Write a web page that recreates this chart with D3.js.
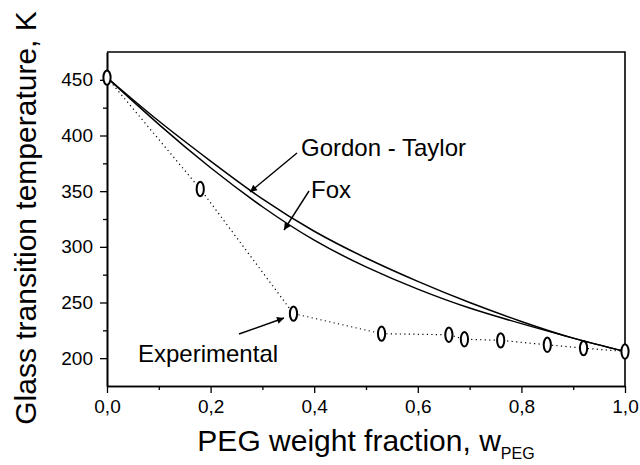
<!DOCTYPE html>
<html>
<head>
<meta charset="utf-8">
<script src="https://cdn.jsdelivr.net/npm/d3@7"></script>
<style>
  body { margin: 0; background: #fff; }
  svg { font-family: "Liberation Sans", Arial, sans-serif; }
</style>
</head>
<body>
<div id="chart"></div>
<script>
// PEG weight fraction vs glass transition temperature
const expW = [0, 0.18, 0.36, 0.53, 0.66, 0.69, 0.76, 0.85, 0.92, 1.0];
const expT = [452, 352, 240, 222, 221, 217, 216, 212, 209, 206];

const curveW = [0, 0.1, 0.2, 0.3, 0.4, 0.5, 0.6, 0.7, 0.8, 0.9, 1.0];
const gordonT = [452, 413, 377, 343, 314, 290, 269, 250, 233, 218, 206];
const foxT = [452, 410, 371, 336, 306, 282, 262, 245, 231, 218, 206];

const xTicks = [0, 0.2, 0.4, 0.6, 0.8, 1.0];
const xMinor = [0.1, 0.3, 0.5, 0.7, 0.9];
const yTicks = [200, 250, 300, 350, 400, 450];
const yMinor = [225, 275, 325, 375, 425];

const width = 640, height = 465;
const margin = {top: 52, right: 15, bottom: 79, left: 107};

const svg = d3.select("#chart")
  .append("svg")
  .attr("width", width)
  .attr("height", height);

const x = d3.scaleLinear()
  .domain([0, 1])
  .range([margin.left, width - margin.right]);

const y = d3.scaleLinear()
  .domain([175, 475])
  .range([height - margin.bottom, margin.top]);

// arrow marker
svg.append("defs").append("marker")
  .attr("id", "arrow")
  .attr("viewBox", "0 0 10 10")
  .attr("refX", 10)
  .attr("refY", 5)
  .attr("markerWidth", 11)
  .attr("markerHeight", 7)
  .attr("markerUnits", "userSpaceOnUse")
  .attr("orient", "auto")
  .append("path")
  .attr("d", "M0,0L10,5L0,10Z")
  .attr("fill", "#000");

// axes
const fmt = d => d3.format(".1f")(d).replace(".", ",");

svg.append("g")
  .attr("transform", `translate(0,${height - margin.bottom})`)
  .call(d3.axisBottom(x).tickValues(xTicks).tickFormat(fmt).tickSize(7).tickPadding(7).tickSizeOuter(0));

svg.append("g")
  .attr("transform", `translate(0,${height - margin.bottom})`)
  .call(d3.axisBottom(x).tickValues(xMinor).tickFormat("").tickSize(4).tickSizeOuter(0));

svg.append("g")
  .attr("transform", `translate(${margin.left},0)`)
  .call(d3.axisLeft(y).tickValues(yTicks).tickSize(7).tickPadding(7).tickSizeOuter(0));

svg.append("g")
  .attr("transform", `translate(${margin.left},0)`)
  .call(d3.axisLeft(y).tickValues(yMinor).tickFormat("").tickSize(4).tickSizeOuter(0));

svg.selectAll(".domain").attr("stroke", "#000").attr("stroke-width", 1.6);
svg.selectAll(".tick line").attr("stroke", "#000").attr("stroke-width", 1.3);
svg.selectAll(".tick text")
  .attr("fill", "#000")
  .style("font-size", "19px")
  .style("font-family", "'Liberation Sans', Arial, sans-serif");

// frame top/right
svg.append("path")
  .attr("d", `M${margin.left},${margin.top}H${width - margin.right}V${height - margin.bottom}`)
  .attr("fill", "none")
  .attr("stroke", "#000")
  .attr("stroke-width", 1.6);

// model curves
const line = d3.line()
  .x(d => x(d[0]))
  .y(d => y(d[1]))
  .curve(d3.curveNatural);

svg.append("path")
  .datum(curveW.map((w, i) => [w, gordonT[i]]))
  .attr("d", line)
  .attr("fill", "none")
  .attr("stroke", "#000")
  .attr("stroke-width", 1.5);

svg.append("path")
  .datum(curveW.map((w, i) => [w, foxT[i]]))
  .attr("d", line)
  .attr("fill", "none")
  .attr("stroke", "#000")
  .attr("stroke-width", 1.5);

// experimental dotted line + markers
const expData = expW.map((w, i) => [w, expT[i]]);

svg.append("path")
  .datum(expData)
  .attr("d", d3.line().x(d => x(d[0])).y(d => y(d[1])))
  .attr("fill", "none")
  .attr("stroke", "#000")
  .attr("stroke-width", 1.2)
  .attr("stroke-dasharray", "1.2,3.3");

svg.append("g")
  .selectAll("ellipse")
  .data(expData)
  .enter().append("ellipse")
  .attr("cx", d => x(d[0]))
  .attr("cy", d => y(d[1]))
  .attr("rx", 3.6)
  .attr("ry", 7.2)
  .attr("fill", "#fff")
  .attr("stroke", "#000")
  .attr("stroke-width", 2);

// labels with arrows
const labels = [
  {text: "Gordon - Taylor", tx: 301, ty: 156, from: [297, 153], to: [250, 192]},
  {text: "Fox", tx: 311, ty: 198, from: [309, 191], to: [284, 230]},
  {text: "Experimental", tx: 138, ty: 362, from: [239, 334], to: [284, 318]}
];

labels.forEach(l => {
  svg.append("line")
    .attr("x1", l.from[0]).attr("y1", l.from[1])
    .attr("x2", l.to[0]).attr("y2", l.to[1])
    .attr("stroke", "#000")
    .attr("stroke-width", 1.4)
    .attr("marker-end", "url(#arrow)");
  svg.append("text")
    .attr("x", l.tx)
    .attr("y", l.ty)
    .style("font-size", "24px")
    .text(l.text);
});

// axis titles
const xTitle = svg.append("text")
  .attr("x", 366)
  .attr("y", 451)
  .attr("text-anchor", "middle")
  .style("font-size", "30px");
xTitle.append("tspan").text("PEG weight fraction, w");
xTitle.append("tspan")
  .attr("dy", 8)
  .style("font-size", "16px")
  .text("PEG");

svg.append("text")
  .attr("transform", "translate(36,218) rotate(-90)")
  .attr("text-anchor", "middle")
  .style("font-size", "30px")
  .text("Glass transition temperature, K");
</script>
</body>
</html>
